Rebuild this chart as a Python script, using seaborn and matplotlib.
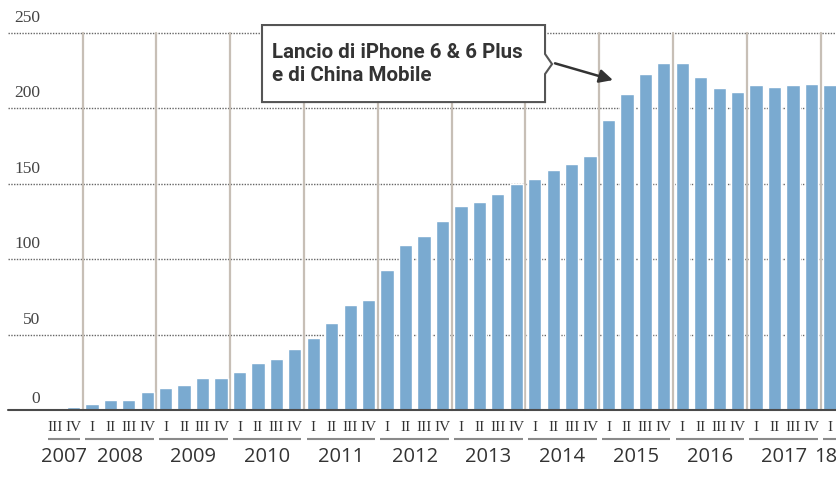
import matplotlib
matplotlib.use("Agg")
import matplotlib.pyplot as plt
import seaborn as sns
import pandas as pd
from matplotlib.patches import Polygon

# ---- data ----
quarter_labels = ["III", "IV"] + ["I", "II", "III", "IV"] * 10 + ["I"]
bar_years = [2007] * 2 + [y for y in range(2008, 2018) for _ in range(4)] + [2018]
values = [
    1.1, 2.2,
    4.2, 6.6, 6.6, 11.7,
    14.4, 16.6, 21.2, 21.2,
    25.2, 31.1, 33.8, 40.6,
    47.9, 57.6, 69.3, 72.6,
    92.7, 109.7, 115.2, 125.2,
    135.5, 138.2, 143.0, 149.7,
    153.4, 159.4, 162.9, 168.7,
    192.5, 209.3, 222.5, 230.2,
    230.2, 220.7, 213.4, 210.6,
    215.2, 213.9, 215.2, 215.9,
    215.5,
]
year_list = [2007, 2008, 2009, 2010, 2011, 2012, 2013, 2014, 2015, 2016, 2017, 2018]
year_labels = ["2007", "2008", "2009", "2010", "2011", "2012", "2013", "2014",
               "2015", "2016", "2017", "18"]
y_ticks = [0, 50, 100, 150, 200, 250]
note_lines = ["Lancio di iPhone 6 & 6 Plus", "e di China Mobile"]

df = pd.DataFrame({
    "key": [f"{y} {q}" for y, q in zip(bar_years, quarter_labels)],
    "value": values,
    "year": bar_years,
    "quarter": quarter_labels,
})

sns.set_style("white")
fig = plt.figure(figsize=(8.36, 4.79), dpi=100)
ax = fig.add_axes([0, 0, 1, 1])

BAR = "#7aaad0"
sns.barplot(data=df, x="key", y="value", color=BAR, saturation=1, width=0.72,
            ax=ax, zorder=2, order=list(df["key"]))

n = len(df)
x_left = -2.55
x_right = n - 0.67
ax.set_xlim(-2.98, x_right)
ax.set_ylim(-45.8, 271.9)
ax.axis("off")

# dotted grid + y labels
for v in y_ticks:
    if v > 0:
        ax.plot([x_left, x_right], [v, v], color="#666666", lw=1.0,
                linestyle=(0, (1, 1)), zorder=1)
    ax.text(-0.8, v + (4.6 if v > 0 else 1.8), str(v), ha="right", va="bottom",
            fontsize=12.5, color="#444444", family=["Liberation Serif", "DejaVu Serif"])

# year separator lines
idx = list(range(n))
for y in year_list[1:]:
    first = min(i for i in idx if bar_years[i] == y)
    ax.plot([first - 0.5, first - 0.5], [0, 250], color="#c7bfb6", lw=1.6, zorder=1.5)

# baseline
ax.plot([x_left, x_right], [0, 0], color="#4a4a4a", lw=1.5, zorder=3)

# quarter labels, underlines, year labels
for i, q in enumerate(quarter_labels):
    ax.text(i, -11.9, q, ha="center", va="center", fontsize=11, color="#333333",
            family=["Liberation Serif", "DejaVu Serif"])
for y, lab in zip(year_list, year_labels):
    members = [i for i in idx if bar_years[i] == y]
    a, b = members[0] - 0.36, members[-1] + 0.36
    ax.plot([a, b], [-19.2, -19.2], color="#8a8a8a", lw=1.5, zorder=3,
            solid_capstyle="butt")
    if lab == "18":
        ax.text(members[0] - 0.88, -31.2, lab, ha="left", va="center", fontsize=14.5,
                color="#333333", family=["Open Sans", "DejaVu Sans"])
    else:
        ax.text((members[0] + members[-1]) / 2, -31.2, lab, ha="center", va="center",
                fontsize=14.5, color="#333333", family=["Open Sans", "DejaVu Sans"])

# annotation callout
L, R, T, B = 11.22, 26.56, 255.3, 204.2
poly = Polygon([(L, T), (R, T), (R, 236.1), (26.94, 229.4), (R, 222.8), (R, B), (L, B)],
               closed=True, facecolor="white", edgecolor="#555555", lw=1.5, zorder=5)
ax.add_patch(poly)
for yy, line in zip([237.4, 222.1], note_lines):
    ax.text(11.76, yy, line, ha="left", va="center", fontsize=14.8,
            fontweight="bold", color="#333333",
            family=["Roboto", "DejaVu Sans"], zorder=6)
ax.annotate("", xy=(30.24, 218.8), xytext=(27.1, 229.9),
            arrowprops=dict(arrowstyle="-|>", color="#333333", lw=1.8,
                            mutation_scale=20, shrinkA=0, shrinkB=0), zorder=6)

fig.savefig("out.png", dpi=100)
